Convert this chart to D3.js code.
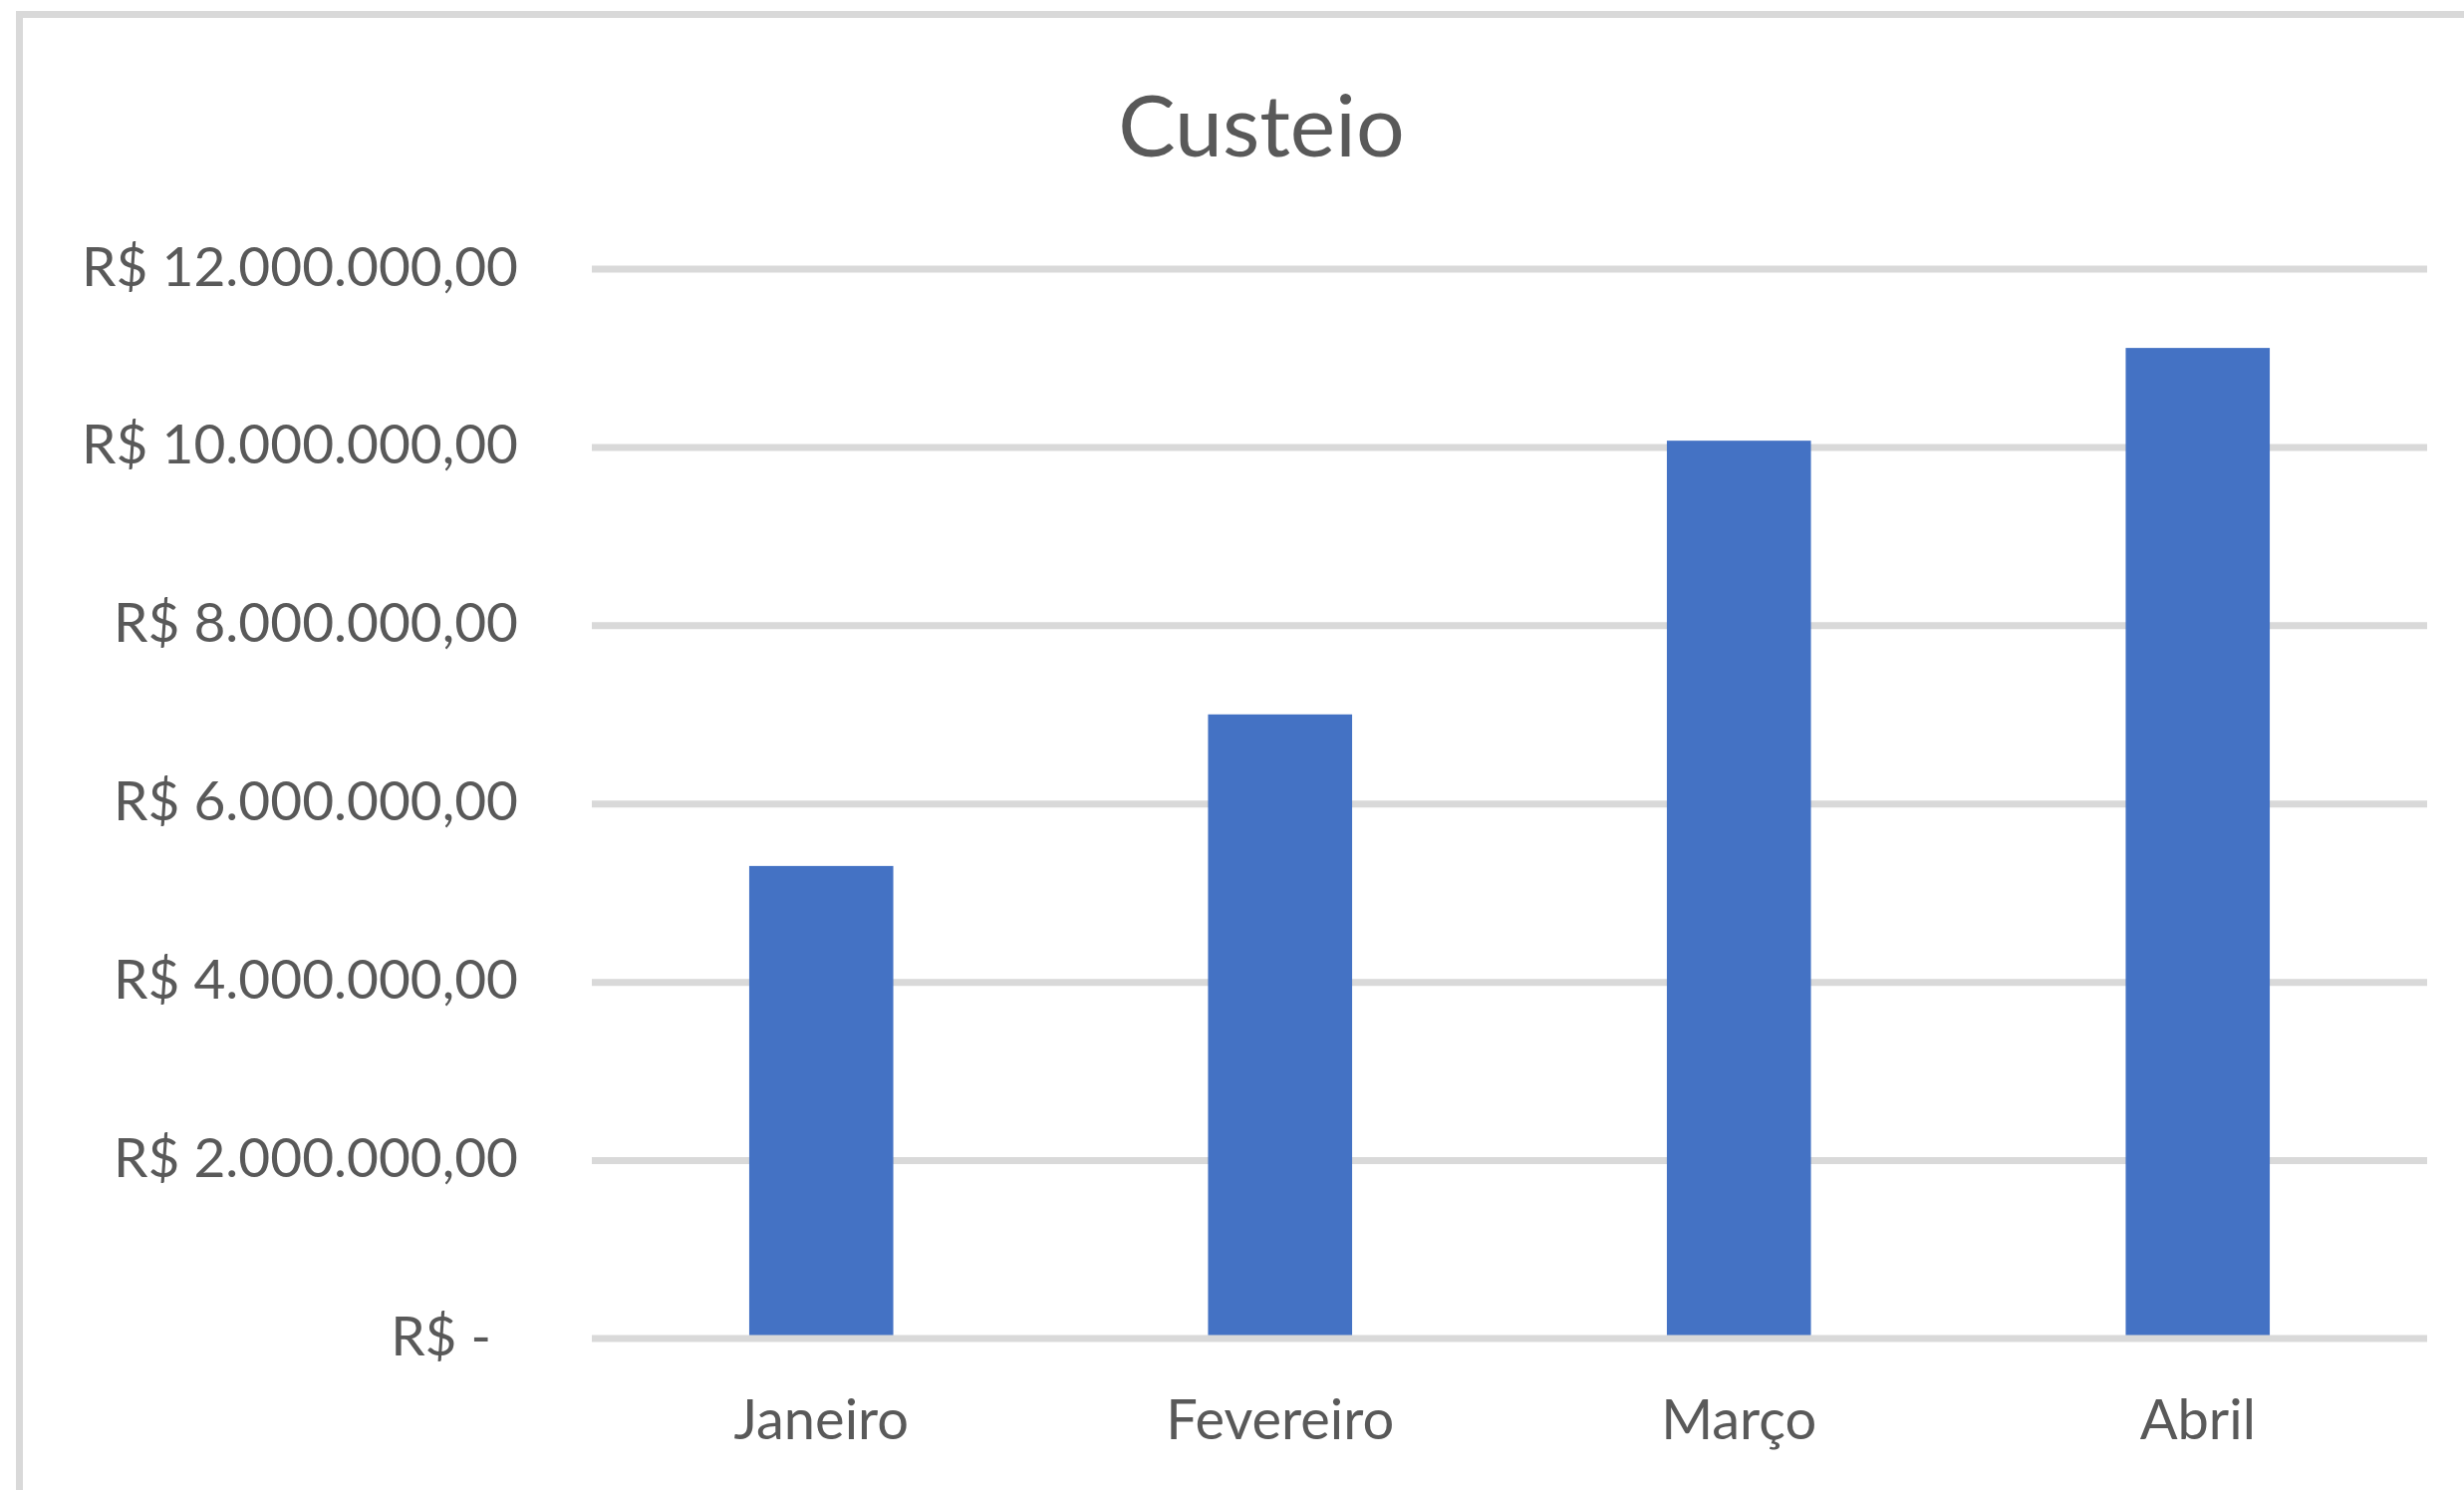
<!DOCTYPE html>
<html>
<head>
<meta charset="utf-8">
<script src="https://cdn.jsdelivr.net/npm/d3@7"></script>
<style>
  html, body { margin: 0; padding: 0; background: #ffffff; overflow: hidden; }
  svg { display: block; }
  text { font-family: Lato, "Open Sans", sans-serif; fill: #595959; }
</style>
</head>
<body>
<svg id="chart" width="2473" height="1495"></svg>
<script>
// ---- data ----
const title = "Custeio";
const categories = ["Janeiro", "Fevereiro", "Março", "Abril"];
const values = [5300000, 7000000, 10070000, 11110000];
const yTicks = [0, 2000000, 4000000, 6000000, 8000000, 10000000, 12000000];

// ---- layout ----
const W = 2473, H = 1495;
const plot = { left: 594, right: 2436, top: 269.5, bottom: 1343 };
const gridColor = "#d9d9d9";
const barColor = "#4472c4";

const svg = d3.select("#chart");

// background + chart-area border (cropped on right/bottom like the reference)
svg.append("rect").attr("x", 0).attr("y", 0).attr("width", W).attr("height", H).attr("fill", "#ffffff");
svg.append("rect")
  .attr("x", 19.5).attr("y", 14.5)
  .attr("width", W + 100).attr("height", H + 100)
  .attr("fill", "none").attr("stroke", gridColor).attr("stroke-width", 7);

const x = d3.scaleBand()
  .domain(categories)
  .range([plot.left, plot.right])
  .paddingInner(0.686)
  .paddingOuter(0.343);

const y = d3.scaleLinear()
  .domain([0, 12000000])
  .range([plot.bottom, plot.top]);

const fmtNum = v => {
  const s = d3.format(",.2f")(v); // 12,000,000.00
  return s.replace(/,/g, "#").replace(/\./g, ",").replace(/#/g, ".");
};
const fmtBRL = v => v === 0 ? "R$ -" : "R$ " + fmtNum(v);

// gridlines (behind bars)
const grid = svg.append("g")
  .attr("transform", `translate(${plot.left},0)`)
  .call(d3.axisLeft(y).tickValues(yTicks.filter(t => t !== 0)).tickSize(-(plot.right - plot.left)).tickFormat(""));
grid.select(".domain").remove();
grid.selectAll("line").attr("stroke", gridColor).attr("stroke-width", 7);

// bars
svg.append("g").selectAll("rect")
  .data(categories)
  .join("rect")
  .attr("x", d => x(d))
  .attr("width", x.bandwidth())
  .attr("y", (d, i) => y(values[i]))
  .attr("height", (d, i) => y(0) - y(values[i]))
  .attr("fill", barColor);

// horizontal axis line at zero (on top of bars)
const xAxis = svg.append("g")
  .attr("transform", `translate(0,${plot.bottom})`)
  .call(d3.axisBottom(x).tickSize(0).tickPadding(0));
xAxis.select(".domain")
  .attr("stroke", gridColor).attr("stroke-width", 7)
  .attr("d", `M${plot.left},0H${plot.right}`);
xAxis.selectAll("text")
  .attr("font-size", 56)
  .attr("dy", null)
  .attr("y", 101)
  .style("fill", "#595959")
  .style("font-family", "Lato, 'Open Sans', sans-serif");

// y-axis labels
const yAxis = svg.append("g")
  .attr("transform", `translate(520,0)`)
  .call(d3.axisLeft(y).tickValues(yTicks).tickSize(0).tickPadding(0).tickFormat(fmtBRL));
yAxis.select(".domain").remove();
yAxis.selectAll("text")
  .attr("font-size", 55)
  .attr("dy", "0.30em")
  .style("fill", "#595959")
  .style("font-family", "Lato, 'Open Sans', sans-serif");
yAxis.selectAll(".tick").filter(d => d === 0).select("text").attr("x", -27);

// title
svg.append("text")
  .attr("x", 1266)
  .attr("y", 157)
  .attr("text-anchor", "middle")
  .attr("font-size", 86)
  .text(title);
</script>
</body>
</html>
